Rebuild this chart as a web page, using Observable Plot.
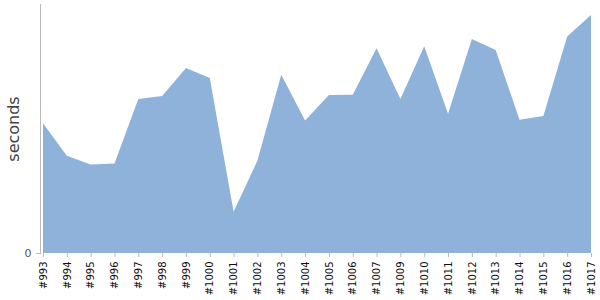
<!DOCTYPE html>
<html><head><meta charset="utf-8">
<script src="https://cdn.jsdelivr.net/npm/d3@7"></script>
<script src="https://cdn.jsdelivr.net/npm/@observablehq/plot@0.6"></script>
<style>body{margin:0;background:#fff}</style>
</head><body><div id="chart"></div>
<script>
const builds = ["#993","#994","#995","#996","#997","#998","#999","#1000","#1001","#1002","#1003","#1004","#1005","#1006","#1007","#1009","#1010","#1011","#1012","#1013","#1014","#1015","#1016","#1017"];
const seconds = [52.1,39.1,35.5,35.9,61.8,63.1,74.3,70.3,16.6,37.1,71.6,53.2,63.5,63.6,82.2,61.8,83.0,55.9,85.9,81.5,53.5,55.0,86.9,95.6];
const yTicks = [0];
const data = builds.map((b, i) => ({build: b, seconds: seconds[i]}));
const chart = Plot.plot({
  width: 600, height: 300,
  marginTop: 4, marginBottom: 47, marginLeft: 40, marginRight: 9,
  style: {fontFamily: "DejaVu Sans", background: "#fff"},
  x: {type: "point", domain: builds, padding: 0, round: false, insetLeft: 3, label: null},
  y: {domain: [0, 100], label: null},
  marks: [
    Plot.areaY(data, {x: "build", y: "seconds", fill: "#8fb2da"}),
    Plot.axisX({tickRotate: -90, tickSize: 4, tickPadding: 4, fontSize: 10, fill: "#111", stroke: "#bbb", label: null}),
    Plot.axisY({ticks: yTicks, tickSize: 4, fontSize: 11, fill: "#555", stroke: "#bbb", label: null}),
    Plot.frame({anchor: "left", stroke: "#bbb"}),
    Plot.text(["seconds"], {frameAnchor: "left", textAnchor: "middle", lineAnchor: "middle", rotate: -90, dx: -27, fontSize: 16, fill: "#444"})
  ]
});
document.getElementById("chart").appendChild(chart);
</script>
</body></html>
